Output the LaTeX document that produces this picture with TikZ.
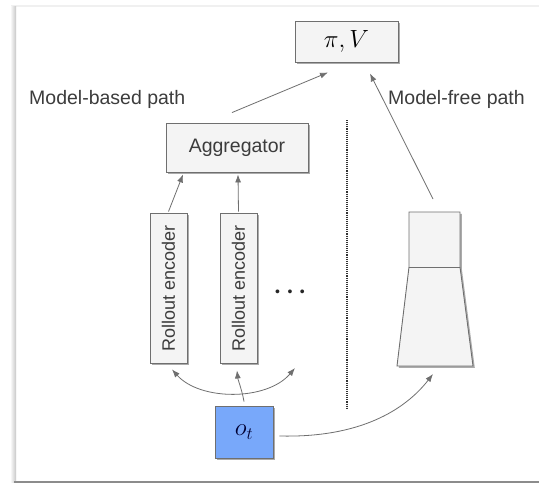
\documentclass[tikz,border=0pt]{standalone}
\usepackage{fontspec}
\setmainfont{Liberation Sans}
\usetikzlibrary{arrows.meta,shadows,calc}
\definecolor{edge}{HTML}{6F6F6F}
\definecolor{boxfill}{HTML}{F4F4F4}
\definecolor{obsblue}{HTML}{78A8FA}
\definecolor{txt}{HTML}{3C3C3C}
\tikzset{
  card/.style={draw=edge, fill=boxfill, line width=0.9pt, inner sep=0pt,
    drop shadow={shadow xshift=1.8pt, shadow yshift=-1.8pt, fill=black!55, opacity=0.6}},
  conn/.style={draw=edge, line width=0.8pt, -{Latex[length=8pt,width=6pt]}},
  lbl/.style={text=txt, font=\fontsize{19.5}{22}\selectfont, inner sep=0pt},
}
\begin{document}
\begin{tikzpicture}[x=1pt,y=-1pt]
  \useasboundingbox (0,0) rectangle (539,483);
  % page frame with soft shadow
  \fill[white] (0,0) rectangle (539,483);
  \fill[black!6] (11,5) rectangle (539,7);
  \shade[left color=white, right color=black!22] (10,6) rectangle (16,482);
  \fill[black!45] (14,480.5) rectangle (539,483);

  % output head
  \node[card, minimum width=103pt, minimum height=41pt] (pv) at (346.5,41.5)
    {\fontsize{25}{27}\selectfont$\pi, V$};

  % path labels
  \node[lbl, anchor=west] (mbp) at (29,99) {Model-based path};
  \node[lbl, anchor=west] (mfp) at (388,99) {Model-free path};

  % model-based branch
  \node[card, minimum width=142pt, minimum height=49pt] (agg) at (237,147.5)
    {\fontsize{19.5}{22}\selectfont\color{txt}Aggregator};
  \node[card, minimum width=37pt, minimum height=150pt] (enc1) at (168.5,288)
    {\rotatebox{90}{\fontsize{18}{20}\selectfont\color{txt}Rollout encoder}};
  \node[card, minimum width=37pt, minimum height=150pt] (enc2) at (238.5,288)
    {\rotatebox{90}{\fontsize{18}{20}\selectfont\color{txt}Rollout encoder}};
  \node[inner sep=0pt, text=black!85, font=\fontsize{14}{14}\selectfont] (dots) at (290,293)
    {•\hspace{7.5pt}•\hspace{7.5pt}•};

  % separator
  \draw[black!80, line width=1.1pt, densely dotted] (347,120) -- (347,409);

  % model-free branch: block on top of a widening trunk
  \coordinate (tA) at (409,212);
  \coordinate (tB) at (460,212);
  \coordinate (tC) at (460,267);
  \coordinate (tD) at (409,267);
  \coordinate (tE) at (473,366);
  \coordinate (tF) at (397,366);
  \coordinate (ttop) at (433,199);
  \coordinate (tbot) at (433,374);
  \coordinate (fork) at (295,368);
  \fill[black!55, opacity=0.6] ($(tA)+(1.8,1.8)$) -- ($(tB)+(1.8,1.8)$) -- ($(tC)+(1.8,1.8)$)
    -- ($(tE)+(1.8,1.8)$) -- ($(tF)+(1.8,1.8)$) -- ($(tD)+(1.8,1.8)$) -- cycle;
  \draw[edge, fill=boxfill, line width=0.9pt] (tA) -- (tB) -- (tC) -- (tE) -- (tF) -- (tD) -- cycle;
  \draw[edge, line width=0.9pt] (tD) -- (tC);

  % observation
  \node[card, fill=obsblue, minimum width=58pt, minimum height=52pt] (ot) at (244,432)
    {\fontsize{24}{26}\selectfont\color{black!80!blue}$o_t$};

  % connectors
  \draw[conn] ([xshift=-5pt,yshift=10pt]agg.north) -- ([xshift=-18.5pt,yshift=-10pt]pv.south);
  \draw[conn] (ttop) -- ([xshift=23.5pt,yshift=-11pt]pv.south);
  \draw[conn] ([yshift=1pt]enc1.north) -- ([xshift=-54pt,yshift=-2pt]agg.south);
  \draw[conn] ([yshift=1pt]enc2.north) -- ([xshift=1pt,yshift=-2pt]agg.south);
  \draw[conn] ([yshift=4pt]ot.north) .. controls (242,390) and (238,380) .. ([xshift=-1.5pt,yshift=-7pt]enc2.south);
  \draw[conn, {Latex[length=8pt,width=6pt]}-{Latex[length=8pt,width=6pt]}]
    ([xshift=3.5pt,yshift=-6pt]enc1.south) .. controls (200,401) and (267,401) .. (fork);
  \draw[conn] ([xshift=6pt,yshift=-4pt]ot.east) .. controls (360,438) and (405,410) .. (tbot);
\end{tikzpicture}
\end{document}
